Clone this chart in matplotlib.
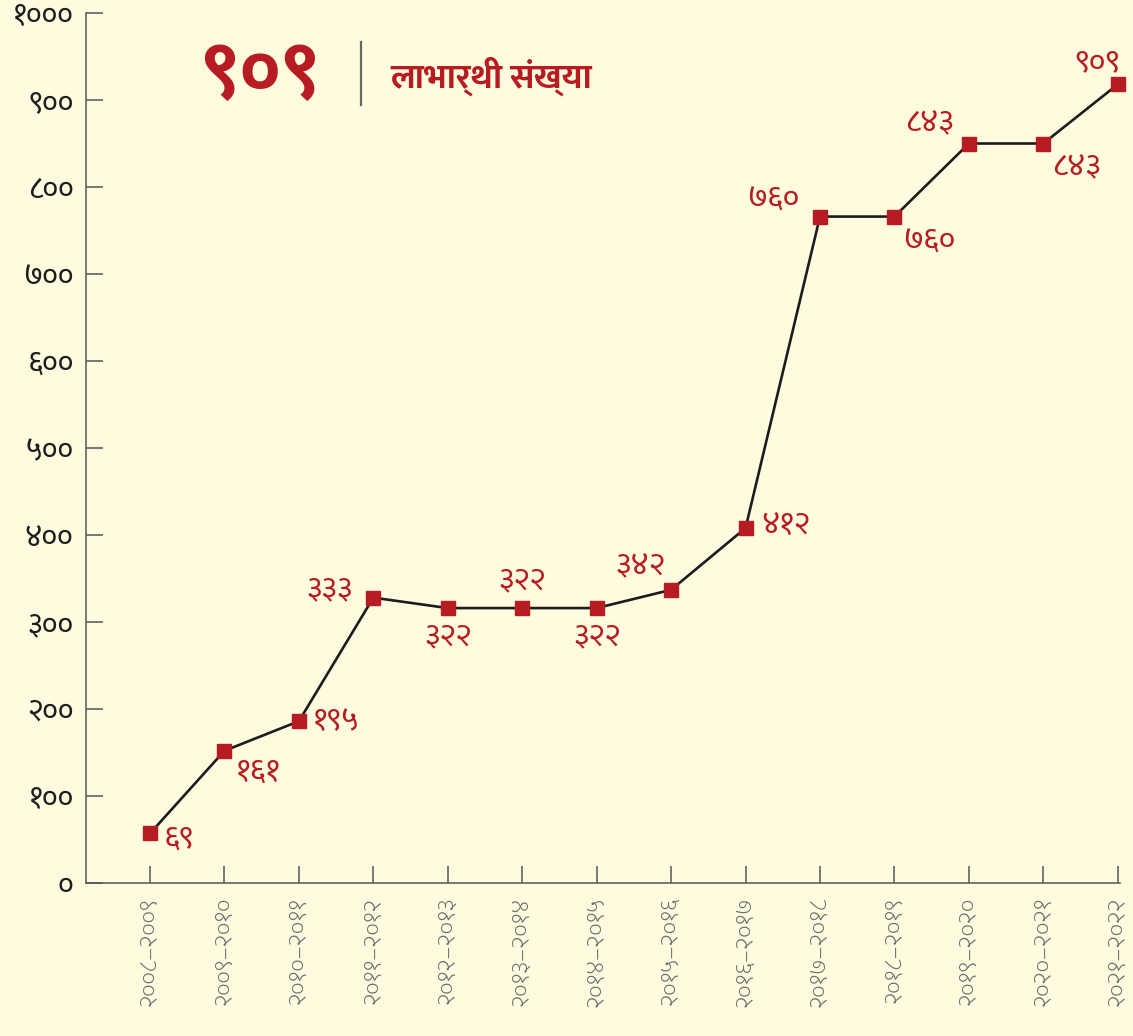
import matplotlib
matplotlib.use("Agg")
import matplotlib.pyplot as plt

# ---------------------------------------------------------------- data
years = ["२००८–२००९", "२००९–२०१०", "२०१०–२०११", "२०११–२०१२", "२०१२–२०१३",
         "२०१३–२०१४", "२०१४–२०१५", "२०१५–२०१६", "२०१६–२०१७", "२०१७–२०१८",
         "२०१८–२०१९", "२०१९–२०२०", "२०२०–२०२१", "२०२१–२०२२"]
# marker heights as drawn in the original chart
beneficiaries = [57, 152, 186, 328, 316, 316, 316, 337, 408, 766, 766, 850, 850, 918]
# numbers printed beside the markers
point_labels = ["६९", "१६१", "१९५", "३३३", "३२२", "३२२", "३२२", "३४२", "४१२",
                "७६०", "७६०", "८४३", "८४३", "९०९"]
y_ticks = [0, 100, 200, 300, 400, 500, 600, 700, 800, 900, 1000]
y_tick_labels = ["०", "१००", "२००", "३००", "४००", "५००", "६००", "७००", "८००", "९००", "१०००"]
total_label = "९०९"
title_label = "लाभार्थी संख्या"

# label offsets (points) and alignment per marker
offsets = [(10, -4, "left", "center"), (8, -5, "left", "top"), (10, 0, "left", "center"),
           (-15, 6, "right", "center"), (0, -10, "center", "top"), (0, 9, "center", "bottom"),
           (0, -10, "center", "top"), (-4, 6, "right", "bottom"), (11, 2, "left", "center"),
           (-15, 2, "right", "bottom"), (6, -7, "left", "top"), (-11, 4, "right", "bottom"),
           (6, -7, "left", "top"), (2, 5, "right", "bottom")]

# ---------------------------------------------------------------- style
BG = "#fefbdf"
RED = "#b71c23"
AXIS = "#555555"
FONT = ["Ek Mukta", "DejaVu Sans"]

fig = plt.figure(figsize=(11.33, 10.36), dpi=100, facecolor=BG)
ax = fig.add_axes([86 / 1133, 153 / 1036, (1120 - 86) / 1133, (883 - 13) / 1036])
ax.set_facecolor(BG)

x = list(range(len(years)))
ax.plot(x, beneficiaries, color="#1c1c1c", lw=1.9, zorder=2, clip_on=False)
ax.plot(x, beneficiaries, ls="none", marker="s", ms=9.5, color=RED, zorder=3, clip_on=False)

for xi, yi, lab, (dx, dy, ha, va) in zip(x, beneficiaries, point_labels, offsets):
    ax.annotate(lab, xy=(xi, yi), xytext=(dx, dy), textcoords="offset points",
                ha=ha, va=va, fontsize=23, color=RED, family=FONT)

ax.set_xlim(-0.86, 13.03)
ax.set_ylim(0, 1000)
ax.set_xticks(x)
ax.set_xticklabels(years, rotation=90, family=FONT, fontsize=18, fontweight="light",
                   color="#6e6e6e")
ax.set_yticks(y_ticks)
ax.set_yticklabels(y_tick_labels, family=FONT, fontsize=22, color="#1e1e1e")
ax.tick_params(axis="both", direction="in", length=12, width=1.1, color=AXIS)
ax.tick_params(axis="x", pad=10)
ax.tick_params(axis="y", pad=9)

for side in ("top", "right"):
    ax.spines[side].set_visible(False)
for side in ("left", "bottom"):
    ax.spines[side].set_color(AXIS)
    ax.spines[side].set_linewidth(1.1)

# headline: total and caption
fig.text(260 / 1133, 1 - 76 / 1036, total_label, ha="center", va="center",
         fontsize=56, fontweight="bold", color=RED, family=FONT)
fig.add_artist(plt.Line2D([361 / 1133, 361 / 1133], [1 - 42 / 1036, 1 - 105 / 1036],
                          color="#666666", lw=1.6))
fig.text(390 / 1133, 1 - 76 / 1036, title_label, ha="left", va="center",
         fontsize=25, fontweight="bold", color=RED, family=FONT)

fig.savefig("out.png", dpi=100, facecolor=BG)
